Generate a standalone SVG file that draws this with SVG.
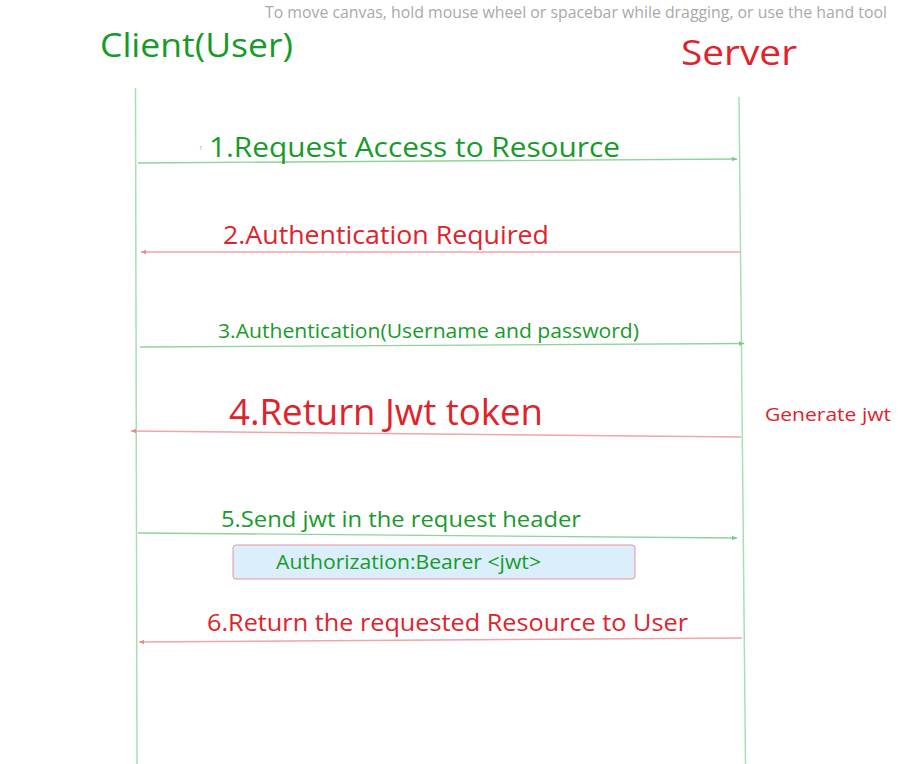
<svg xmlns="http://www.w3.org/2000/svg" width="912" height="764" viewBox="0 0 912 764">
<style>
text{font-family:"Open Sans","Noto Sans","Liberation Sans",sans-serif}
.g{fill:#169b2a}
.r{fill:#e0232b}
.life{stroke:#a8dfb0;stroke-width:1.5;fill:none}
.ga{stroke:#8fd39a;stroke-width:1.3;fill:none}
.ra{stroke:#f2a4a6;stroke-width:1.5;fill:none}
</style>
<defs>
<marker id="ahg" markerWidth="6" markerHeight="6" refX="5" refY="3" orient="auto" markerUnits="userSpaceOnUse"><path d="M0,0.8 L5,3 L0,5.2 Z" fill="#7cc98a"/></marker>
<marker id="ahr" markerWidth="6" markerHeight="6" refX="5" refY="3" orient="auto" markerUnits="userSpaceOnUse"><path d="M0,0.8 L5,3 L0,5.2 Z" fill="#e88a8d"/></marker>
</defs>
<rect width="912" height="764" fill="#ffffff"/>
<text x="265" y="18" font-size="16" fill="#a9a9a9" textLength="622" lengthAdjust="spacingAndGlyphs">To move canvas, hold mouse wheel or spacebar while dragging, or use the hand tool</text>
<g id="client">
<text class="g" x="100" y="57" font-size="32" textLength="193" lengthAdjust="spacingAndGlyphs">Client(User)</text>
<line class="life" x1="135.5" y1="88" x2="137" y2="764"/>
</g>
<g id="server">
<text class="r" x="681" y="65" font-size="35" textLength="116" lengthAdjust="spacingAndGlyphs">Server</text>
<line class="life" x1="739" y1="97" x2="745.5" y2="764"/>
<text class="r" x="765" y="421" font-size="18" textLength="126" lengthAdjust="spacingAndGlyphs">Generate jwt</text>
</g>
<g id="connectors">
<line class="ga" x1="138" y1="163" x2="737" y2="159" marker-end="url(#ahg)"/>
<line class="ra" x1="740" y1="252" x2="141" y2="252" marker-end="url(#ahr)"/>
<line class="ga" x1="140" y1="347" x2="744" y2="343.5" marker-end="url(#ahg)"/>
<line class="ra" x1="741" y1="437" x2="131" y2="431" marker-end="url(#ahr)"/>
<line class="ga" x1="138" y1="533" x2="737" y2="538" marker-end="url(#ahg)"/>
<line class="ra" x1="742" y1="638" x2="139" y2="642" marker-end="url(#ahr)"/>
</g>
<g id="msg1">
<text x="199" y="150" font-size="6" fill="#8aa6c8">1</text>
<text class="g" x="209" y="157" font-size="28" textLength="411" lengthAdjust="spacingAndGlyphs">1.Request Access to Resource</text>
</g>
<g id="msg2">
<text class="r" x="223" y="244" font-size="26" textLength="326" lengthAdjust="spacingAndGlyphs">2.Authentication Required</text>
</g>
<g id="msg3">
<text class="g" x="218" y="338" font-size="20" textLength="421" lengthAdjust="spacingAndGlyphs">3.Authentication(Username and password)</text>
</g>
<g id="msg4">
<text class="r" x="229" y="425" font-size="36" textLength="314" lengthAdjust="spacingAndGlyphs">4.Return Jwt token</text>
</g>
<g id="msg5">
<text class="g" x="221" y="527" font-size="22" textLength="360" lengthAdjust="spacingAndGlyphs">5.Send jwt in the request header</text>
</g>
<g id="header-box">
<rect x="233" y="545" width="402" height="34" rx="3" fill="#dbeefb" stroke="#e8959a" stroke-width="1"/>
<text class="g" x="276" y="569" font-size="20" textLength="265" lengthAdjust="spacingAndGlyphs">Authorization:Bearer &lt;jwt&gt;</text>
</g>
<g id="msg6">
<text class="r" x="207" y="631" font-size="24" textLength="481" lengthAdjust="spacingAndGlyphs">6.Return the requested Resource to User</text>
</g>
</svg>
